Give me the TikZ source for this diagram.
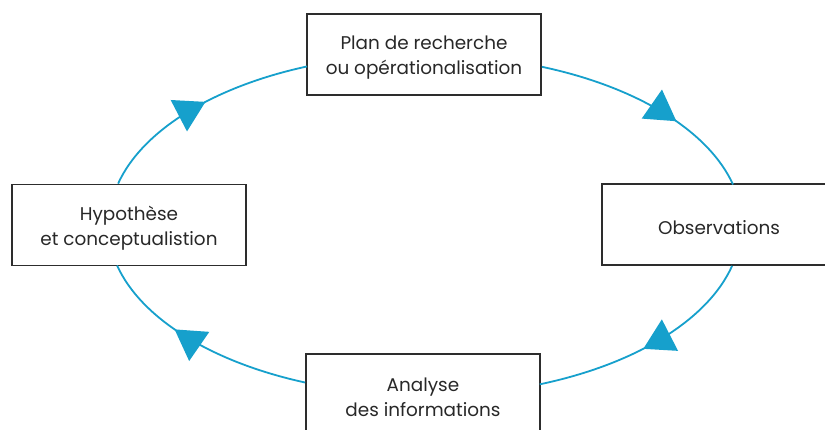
\documentclass[tikz,border=0pt]{standalone}
\usepackage{fontspec}
\setmainfont{Poppins}
\usetikzlibrary{arrows.meta,decorations.markings}
\definecolor{cyc}{RGB}{22,160,204}
\definecolor{boxline}{RGB}{45,45,45}
\definecolor{txt}{RGB}{40,40,40}
\tikzset{
  stagebox/.style={draw=boxline,line width=1.8pt,fill=white,minimum width=234pt,minimum height=81pt,inner sep=0pt},
  stagetext/.style={inner sep=0pt,align=center,text=txt,font=\fontsize{18.4}{25.5}\selectfont},
  flow/.style={draw=cyc,line width=1.8pt,
    postaction={decorate,decoration={markings,
      mark=at position #1 with {\arrow{Triangle[length=30pt,width=35pt,fill=cyc,color=cyc]}}}}},
}
\begin{document}
\begin{tikzpicture}[x=1pt,y=-1pt]
\useasboundingbox (0,0) rectangle (825,429);
\clip (0,0) rectangle (825,429);
\fill[white] (0,0) rectangle (825,429);
\node[stagebox] (T) at (424,54.5) {};
\node[stagebox] (L) at (129,225) {};
\node[stagebox] (R) at (719,224.5) {};
\node[stagebox] (B) at (423,394.5) {};
\node[stagetext] (Tt) at ([yshift=-3pt]T.center) {Plan de recherche\\ou opérationalisation};
\node[stagetext] (Lt) at ([yshift=-3pt]L.center) {Hypothèse\\et conceptualistion};
\node[stagetext] (Rt) at ([yshift=-3pt]R.center) {Observations};
\node[stagetext] (Bt) at ([yshift=-3pt]B.center) {Analyse\\des informations};
\draw[flow=0.53] ([xshift=-10.9pt]L.north) arc[start angle=193.8,end angle=248.1,x radius=316,y radius=170];
\draw[flow=0.63] ([yshift=-12.3pt]T.east) arc[start angle=291.5,end angle=346.2,x radius=316,y radius=170];
\draw[flow=0.53] ([xshift=13.1pt]R.south) arc[start angle=13.6,end angle=68.7,x radius=316,y radius=170];
\draw[flow=0.62] ([yshift=12pt]B.west) arc[start angle=112.1,end angle=166.2,x radius=316,y radius=170];
\end{tikzpicture}
\end{document}
